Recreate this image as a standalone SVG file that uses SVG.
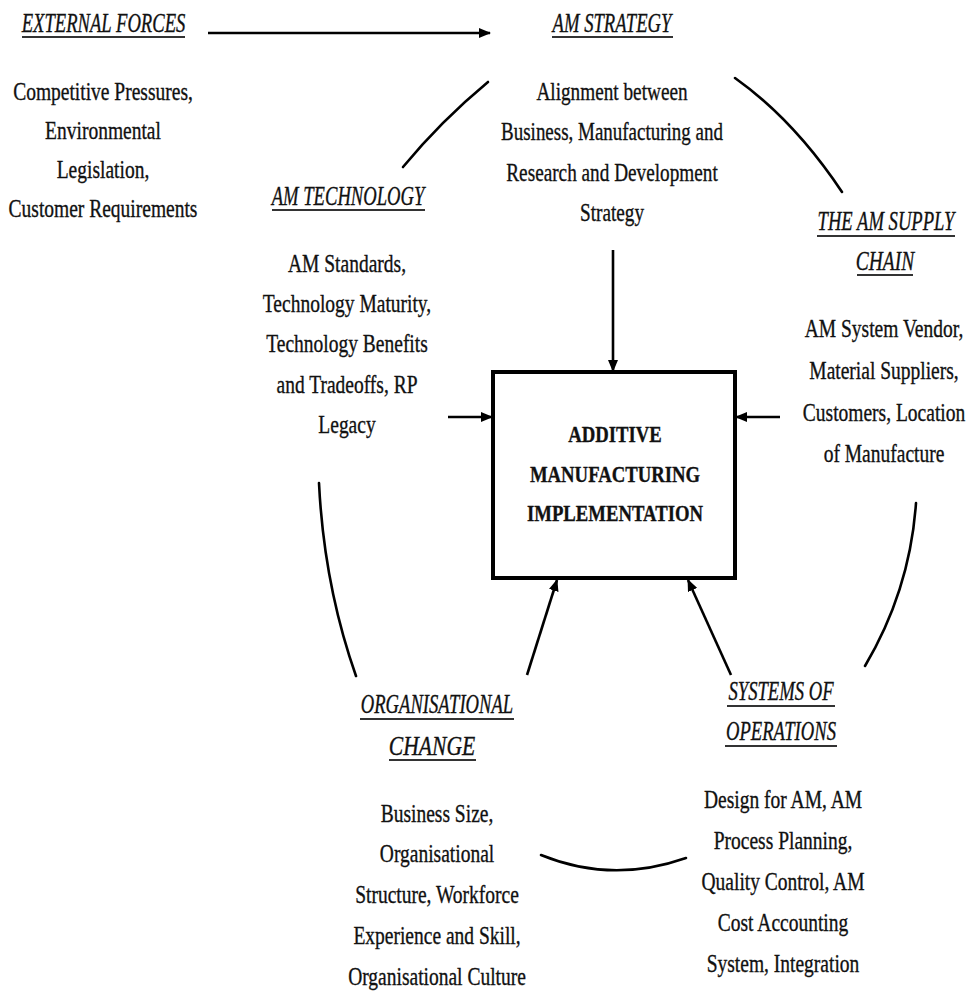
<svg xmlns="http://www.w3.org/2000/svg" width="969" height="993" viewBox="0 0 969 993">
<defs>
<style>
text{font-family:"Liberation Serif","Times New Roman",serif;fill:#111;text-anchor:middle;stroke:#111;stroke-width:0.35}
.b{font-size:26px}
.t{font-size:27px;font-style:italic}
.c{font-size:24px;font-weight:bold}
.ul{stroke:#333;stroke-width:2}
.arc{fill:none;stroke:#000;stroke-width:2.6;stroke-linecap:round}
.arr{fill:none;stroke:#000;stroke-width:2.6}
</style>
<marker id="ah" markerUnits="userSpaceOnUse" markerWidth="12" markerHeight="10" refX="11" refY="5" orient="auto">
<path d="M0,0 L12,5 L0,10 z" fill="#000"/>
</marker>
</defs>
<rect width="969" height="993" fill="#fff"/>

<g id="external-forces">
<text class="t" transform="translate(103.5,32) scale(0.69,1)">EXTERNAL FORCES</text>
<line class="ul" x1="22" y1="37" x2="185" y2="37"/>
<text class="b" transform="translate(103,100) scale(0.75,1)">Competitive Pressures,</text>
<text class="b" transform="translate(103,139) scale(0.75,1)">Environmental</text>
<text class="b" transform="translate(103,178) scale(0.75,1)">Legislation,</text>
<text class="b" transform="translate(103,217) scale(0.75,1)">Customer Requirements</text>
</g>

<g id="am-strategy">
<text class="t" transform="translate(612,32) scale(0.69,1)">AM STRATEGY</text>
<line class="ul" x1="552" y1="37" x2="673" y2="37"/>
<text class="b" transform="translate(612,100) scale(0.74,1)">Alignment between</text>
<text class="b" transform="translate(612,140) scale(0.73,1)">Business, Manufacturing and</text>
<text class="b" transform="translate(612,181) scale(0.74,1)">Research and Development</text>
<text class="b" transform="translate(612,221) scale(0.74,1)">Strategy</text>
</g>

<g id="am-technology">
<text class="t" transform="translate(348,205) scale(0.69,1)">AM TECHNOLOGY</text>
<line class="ul" x1="272" y1="210" x2="425" y2="210"/>
<text class="b" transform="translate(347,272) scale(0.75,1)">AM Standards,</text>
<text class="b" transform="translate(347,312) scale(0.75,1)">Technology Maturity,</text>
<text class="b" transform="translate(347,352) scale(0.75,1)">Technology Benefits</text>
<text class="b" transform="translate(347,393) scale(0.75,1)">and Tradeoffs, RP</text>
<text class="b" transform="translate(347,433) scale(0.75,1)">Legacy</text>
</g>

<g id="am-supply-chain">
<text class="t" transform="translate(886,230) scale(0.69,1)">THE AM SUPPLY</text>
<line class="ul" x1="817" y1="236" x2="955" y2="236"/>
<text class="t" transform="translate(885,270) scale(0.72,1)">CHAIN</text>
<line class="ul" x1="857" y1="275" x2="913" y2="275"/>
<text class="b" transform="translate(884,337) scale(0.75,1)">AM System Vendor,</text>
<text class="b" transform="translate(884,379) scale(0.75,1)">Material Suppliers,</text>
<text class="b" transform="translate(884,421) scale(0.75,1)">Customers, Location</text>
<text class="b" transform="translate(884,462) scale(0.75,1)">of Manufacture</text>
</g>

<g id="am-implementation">
<rect x="493" y="372" width="242" height="206" fill="#fff" stroke="#000" stroke-width="4"/>
<text class="c" transform="translate(615,442) scale(0.78,1)">ADDITIVE</text>
<text class="c" transform="translate(615,482) scale(0.78,1)">MANUFACTURING</text>
<text class="c" transform="translate(615,521) scale(0.78,1)">IMPLEMENTATION</text>
</g>

<g id="organisational-change">
<text class="t" transform="translate(437,713) scale(0.69,1)">ORGANISATIONAL</text>
<line class="ul" x1="360" y1="719" x2="514" y2="719"/>
<text class="t" transform="translate(432,755) scale(0.8,1)">CHANGE</text>
<line class="ul" x1="389" y1="760" x2="476" y2="760"/>
<text class="b" transform="translate(437,822) scale(0.75,1)">Business Size,</text>
<text class="b" transform="translate(437,862) scale(0.75,1)">Organisational</text>
<text class="b" transform="translate(437,903) scale(0.75,1)">Structure, Workforce</text>
<text class="b" transform="translate(437,944) scale(0.75,1)">Experience and Skill,</text>
<text class="b" transform="translate(437,985) scale(0.75,1)">Organisational Culture</text>
</g>

<g id="systems-of-operations">
<text class="t" transform="translate(781,700) scale(0.69,1)">SYSTEMS OF</text>
<line class="ul" x1="727" y1="706" x2="835" y2="706"/>
<text class="t" transform="translate(781,740) scale(0.69,1)">OPERATIONS</text>
<line class="ul" x1="725" y1="746" x2="837" y2="746"/>
<text class="b" transform="translate(783,808) scale(0.75,1)">Design for AM, AM</text>
<text class="b" transform="translate(783,849) scale(0.75,1)">Process Planning,</text>
<text class="b" transform="translate(783,890) scale(0.75,1)">Quality Control, AM</text>
<text class="b" transform="translate(783,931) scale(0.75,1)">Cost Accounting</text>
<text class="b" transform="translate(783,972) scale(0.75,1)">System, Integration</text>
</g>

<g id="connectors">
<line class="arr" x1="208" y1="33" x2="490" y2="33" stroke-width="3" marker-end="url(#ah)"/>
<line class="arr" x1="613" y1="250" x2="613" y2="371" marker-end="url(#ah)"/>
<line class="arr" x1="448" y1="417" x2="492" y2="417" marker-end="url(#ah)"/>
<line class="arr" x1="780" y1="417" x2="736" y2="417" marker-end="url(#ah)"/>
<line class="arr" x1="527" y1="675" x2="557" y2="580" marker-end="url(#ah)"/>
<line class="arr" x1="731" y1="675" x2="688" y2="580" marker-end="url(#ah)"/>
<path class="arc" d="M403,167 Q441,121 488,82"/>
<path class="arc" d="M735,78 Q794,120 842,192"/>
<path class="arc" d="M916,503 Q910,590 865,666"/>
<path class="arc" d="M319,483 Q324,585 356,676"/>
<path class="arc" d="M541,855 Q612,884 686,858" stroke-width="3.5"/>
</g>
</svg>
